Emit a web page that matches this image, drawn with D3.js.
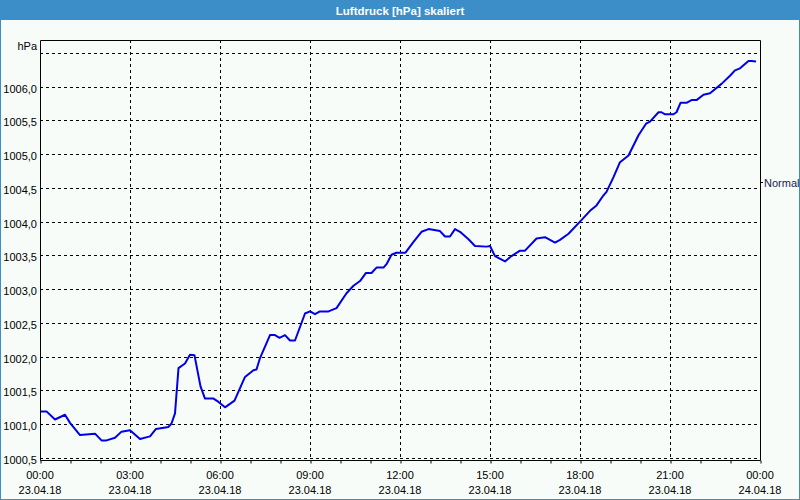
<!DOCTYPE html>
<html><head><meta charset="utf-8">
<script src="https://cdn.jsdelivr.net/npm/d3@7"></script>
<style>html,body{margin:0;padding:0;background:#fff;}svg{display:block;}</style>
</head><body>
<script>
// ---- data ----
const title = "Luftdruck [hPa] skaliert";
const unitLabel = "hPa";
// minutes since 23.04.18 00:00
const minutes = [2,13,30,50,60,80,110,123,133,150,163,180,200,220,232,257,263,270,277,290,300,309,321,330,347,357,370,389,410,427,433,440,460,470,479,490,500,510,530,540,550,560,577,593,613,627,640,652,663,673,687,693,703,713,731,747,763,777,800,810,820,830,840,857,870,893,900,910,930,943,960,970,993,1010,1030,1040,1057,1080,1100,1113,1127,1133,1147,1160,1177,1197,1212,1220,1237,1243,1250,1267,1273,1281,1293,1303,1313,1327,1340,1363,1380,1390,1400,1417,1423,1432];
const pressure = [1001.19,1001.19,1001.07,1001.14,1001.02,1000.84,1000.86,1000.76,1000.76,1000.80,1000.89,1000.91,1000.78,1000.82,1000.93,1000.96,1001.01,1001.16,1001.83,1001.90,1002.03,1002.02,1001.56,1001.38,1001.38,1001.33,1001.25,1001.35,1001.70,1001.80,1001.81,1001.98,1002.32,1002.32,1002.28,1002.32,1002.24,1002.24,1002.64,1002.67,1002.63,1002.67,1002.67,1002.72,1002.94,1003.05,1003.12,1003.24,1003.24,1003.32,1003.32,1003.37,1003.51,1003.54,1003.54,1003.70,1003.85,1003.89,1003.86,1003.78,1003.78,1003.89,1003.85,1003.74,1003.64,1003.63,1003.64,1003.49,1003.41,1003.49,1003.57,1003.57,1003.75,1003.77,1003.69,1003.73,1003.82,1004.00,1004.16,1004.24,1004.39,1004.44,1004.66,1004.88,1004.98,1005.28,1005.45,1005.48,1005.62,1005.62,1005.59,1005.59,1005.62,1005.76,1005.76,1005.80,1005.80,1005.88,1005.90,1006.04,1006.16,1006.24,1006.27,1006.38,1006.38,1006.37];
const yTicks = [1000.5,1001.0,1001.5,1002.0,1002.5,1003.0,1003.5,1004.0,1004.5,1005.0,1005.5,1006.0,1006.5];
const xTickMinutes = [0,180,360,540,720,900,1080,1260,1440];
const xTickTimes = ["00:00","03:00","06:00","09:00","12:00","15:00","18:00","21:00","00:00"];
const xTickDates = ["23.04.18","23.04.18","23.04.18","23.04.18","23.04.18","23.04.18","23.04.18","23.04.18","24.04.18"];
const normalLabel = "Normal";
const normalValue = 1004.58;
const yDomain = [1000.47, 1006.69];

// ---- drawing ----
const W = 800, H = 500;
const L = 40, R = 760, T = 40, B = 460;
const font = "'Liberation Sans', Arial, sans-serif";
const svg = d3.select("body").append("svg").attr("width", W).attr("height", H);

svg.append("rect").attr("x",0).attr("y",0).attr("width",W).attr("height",H).attr("fill","#f8fcf9");
// window frame
svg.append("rect").attr("x",0.5).attr("y",0.5).attr("width",W-1).attr("height",H-1)
  .attr("fill","none").attr("stroke","#3c8ec8").attr("stroke-width",1);
svg.append("rect").attr("x",0).attr("y",0).attr("width",W).attr("height",20).attr("fill","#3c8ec8");
svg.append("text").attr("x",W/2).attr("y",10.5).attr("text-anchor","middle").attr("dominant-baseline","central")
  .attr("fill","#fff").attr("font-family",font).attr("font-weight","bold").attr("font-size",11.5).text(title);

const x = d3.scaleLinear().domain([0,1440]).range([L,R]);
const y = d3.scaleLinear().domain(yDomain).range([B,T]);

// horizontal grid
svg.append("g").selectAll("line").data(yTicks).join("line")
  .attr("x1",L).attr("x2",R).attr("y1",d=>Math.round(y(d))+0.5).attr("y2",d=>Math.round(y(d))+0.5)
  .attr("stroke","#000").attr("stroke-width",1).attr("stroke-dasharray","3,3");
// vertical grid
svg.append("g").selectAll("line").data(xTickMinutes.slice(1,-1)).join("line")
  .attr("x1",d=>Math.round(x(d))+0.5).attr("x2",d=>Math.round(x(d))+0.5).attr("y1",T).attr("y2",B)
  .attr("stroke","#000").attr("stroke-width",1).attr("stroke-dasharray","3,3");

// frame of plot
svg.append("path").attr("d",`M${L+0.5},${B+0.5}V${T+0.5}H${R+0.5}V${B+0.5}`)
  .attr("fill","none").attr("stroke","#000").attr("stroke-width",1);

// x axis
const xAxis = d3.axisBottom(x).tickValues(d3.range(0,1441,60)).tickSize(3).tickFormat("");
const gx = svg.append("g").attr("transform",`translate(0.5,${B+0.5})`).call(xAxis);
gx.select(".domain").attr("d",`M${L},0H${R}`).attr("stroke","#000");
gx.selectAll(".tick line").attr("stroke","#000");

const xl = svg.append("g").attr("font-family",font).attr("font-size",11).attr("fill","#000");
xl.selectAll("text.t").data(xTickMinutes).join("text").attr("class","t")
  .attr("x",d=>x(d)).attr("y",479).attr("text-anchor","middle").text((d,i)=>xTickTimes[i]);
xl.selectAll("text.d").data(xTickMinutes).join("text").attr("class","d")
  .attr("x",d=>x(d)).attr("y",494).attr("text-anchor","middle").text((d,i)=>xTickDates[i]);

// y labels
const yl = svg.append("g").attr("font-family",font).attr("font-size",11).attr("fill","#000");
yl.selectAll("text").data(yTicks.slice(0,-1)).join("text")
  .attr("x",37).attr("y",d=>y(d)+6).attr("text-anchor","end")
  .text(d=>d3.format(".1f")(d).replace(".",","));
yl.append("text").attr("x",37).attr("y",50).attr("text-anchor","end").text(unitLabel);

// normal marker on right axis
svg.append("line").attr("x1",R).attr("x2",R+3).attr("y1",Math.round(y(normalValue))+0.5).attr("y2",Math.round(y(normalValue))+0.5)
  .attr("stroke","#000");
svg.append("text").attr("x",R+4).attr("y",y(normalValue)+5).attr("font-family",font).attr("font-size",11)
  .attr("fill","#1a1a50").text(normalLabel);

// line
const data = minutes.map((m,i)=>[m,pressure[i]]);
svg.append("path").datum(data)
  .attr("d",d3.line().x(d=>x(d[0])).y(d=>y(d[1])))
  .attr("fill","none").attr("stroke","#0000e6").attr("stroke-width",2).attr("stroke-linejoin","round");
</script>
</body></html>
